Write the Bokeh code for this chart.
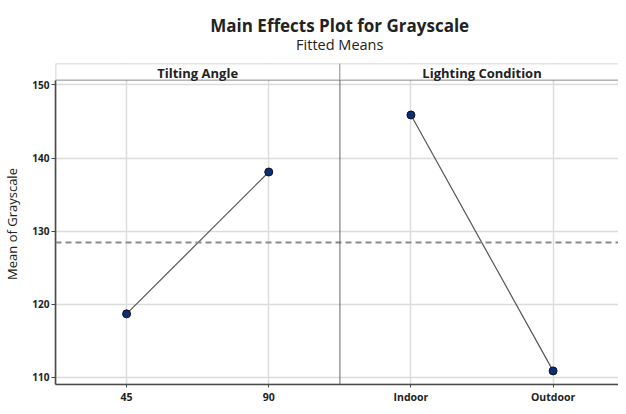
from bokeh.plotting import figure
from bokeh.layouts import column
from bokeh.models import Range1d, FixedTicker, Span, BoxAnnotation, Label
from bokeh.embed import file_html
from bokeh.resources import INLINE

# ---- data ----
title_text = "Main Effects Plot for Grayscale"
subtitle_text = "Fitted Means"
factors = ["Tilting Angle", "Lighting Condition"]
tilt_levels = ["45", "90"]
tilt_means = [118.7, 138.1]
light_levels = ["Indoor", "Outdoor"]
light_means = [145.9, 110.9]
grand_mean = [128.45]
y_ticks = [110, 120, 130, 140, 150]

levels = [tilt_levels, light_levels]
means = [tilt_means, light_means]

FONT = "Open Sans"
FRAME = "#4a4a4a"
TXT = "#222222"
W = 618
HEAD_H = 63
MAIN_H = 343

# ---- header (titles) ----
head = figure(width=W, height=HEAD_H, output_backend="svg", toolbar_location=None,
              x_range=Range1d(0, W), y_range=Range1d(0, HEAD_H),
              x_axis_type=None, y_axis_type=None,
              min_border=0, title=None)
head.grid.visible = False
head.outline_line_color = None
head.add_layout(Label(x=312, y=38, text=title_text, text_align="center",
                      text_baseline="middle", text_font=FONT,
                      text_font_size="17px", text_font_style="bold",
                      text_color=TXT))
head.add_layout(Label(x=312, y=19.5, text=subtitle_text, text_align="center",
                      text_baseline="middle", text_font=FONT,
                      text_font_size="14.5px", text_font_style="normal",
                      text_color=TXT))

# ---- main panel plot ----
y_bottom = 109.04
strip_bottom = 150.68
y_top = 152.94

p = figure(width=W, height=MAIN_H, output_backend="svg", toolbar_location=None,
           title=None, x_axis_label=None,
           x_range=Range1d(-0.5, 3.46), y_range=Range1d(y_bottom, y_top),
           min_border_left=51, min_border_right=0, min_border_bottom=0,
           min_border_top=0)
p.outline_line_color = None
p.background_fill_color = "white"

tick_pos = []
tick_labels = {}
for k, (lv, mv) in enumerate(zip(levels, means)):
    xs = [2 * k + i for i in range(len(lv))]
    for x, lab in zip(xs, lv):
        tick_pos.append(x)
        tick_labels[x] = lab
    p.line(xs, mv, line_color="#555555", line_width=1.2)
    p.scatter(xs, mv, size=8, fill_color="#0b2d7a", line_color="#111111",
              line_width=1)

p.xaxis.ticker = FixedTicker(ticks=tick_pos)
p.xaxis.major_label_overrides = tick_labels
p.yaxis.ticker = FixedTicker(ticks=y_ticks)
for ax in (p.xaxis, p.yaxis):
    ax.axis_line_color = FRAME
    ax.axis_line_width = 1.6
    ax.major_tick_line_color = FRAME
    ax.major_tick_in = 0
    ax.major_tick_out = 4
    ax.minor_tick_line_color = None
    ax.major_label_text_font = FONT
    ax.major_label_text_font_size = "10.5px"
    ax.major_label_text_font_style = "bold"
    ax.major_label_text_color = TXT
    ax.major_label_standoff = 2
p.yaxis.major_label_text_font_size = "10px"
p.xaxis.major_tick_out = 3
p.yaxis.bounds = (y_bottom, strip_bottom)
p.yaxis.axis_label = "Mean of Grayscale"
p.yaxis.axis_label_text_font = FONT
p.yaxis.axis_label_text_font_size = "13px"
p.yaxis.axis_label_text_font_style = "normal"
p.yaxis.axis_label_text_color = TXT
p.yaxis.axis_label_standoff = 8

p.xgrid.grid_line_color = "#dcdcdc"
p.xgrid.grid_line_width = 1.5
p.ygrid.grid_line_color = "#dcdcdc"
p.ygrid.grid_line_width = 1.5

# grand mean reference line
p.add_layout(Span(location=grand_mean[0], dimension="width", line_color="#8a8a8a",
                  line_width=2, line_dash="6 4"))

# panel borders and strips
n = len(factors)
for k, name in enumerate(factors):
    right = 2 * k + 1.5 if k < n - 1 else 2 * k + 1.6
    p.add_layout(BoxAnnotation(left=2 * k - 0.5, right=right,
                               bottom=y_bottom, top=strip_bottom,
                               fill_alpha=0, line_color=FRAME, line_width=1.6))
    p.add_layout(BoxAnnotation(left=2 * k - 0.5, right=right,
                               bottom=strip_bottom, top=y_top,
                               fill_color="white", fill_alpha=1,
                               line_color=FRAME, line_width=1.6))
    p.add_layout(Label(x=2 * k + 0.5,
                       y=strip_bottom + 0.45 * (y_top - strip_bottom), text=name,
                       text_align="center", text_baseline="middle",
                       text_font=FONT, text_font_size="13px",
                       text_font_style="bold", text_color=TXT))

layout = column(head, p, spacing=0)
open("out.html", "w").write(file_html(layout, INLINE))
